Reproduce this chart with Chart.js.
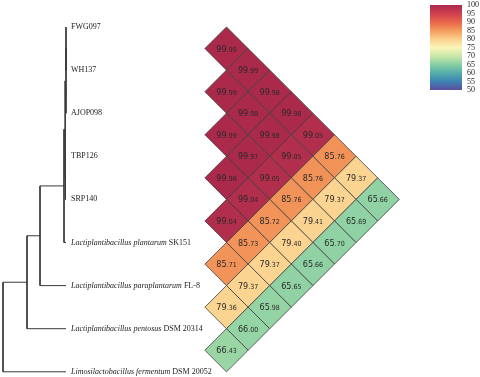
<!DOCTYPE html>
<html>
<head>
<meta charset="utf-8">
<script src="https://cdn.jsdelivr.net/npm/chart.js@4.4.1/dist/chart.umd.min.js"></script>
<style>
  html, body { margin: 0; padding: 0; background: #fff; }
  #wrap { width: 480px; height: 377px; }
</style>
</head>
<body>
<div id="wrap"><canvas id="aniChart" width="480" height="377"></canvas></div>
<script>
// leaf order (top to bottom), species part is italic
const speciesNames = ['', '', '', '', '',
  'Lactiplantibacillus plantarum', 'Lactiplantibacillus paraplantarum',
  'Lactiplantibacillus pentosus', 'Limosilactobacillus fermentum'];
const strainNames = ['FWG097', 'WH137', 'AJOP098', 'TBP126', 'SRP140',
  'SK151', 'FL-8', 'DSM 20314', 'DSM 20052'];

// pairwise identity (%), row i holds pairs (i, i+1), (i, i+2), ...
const aniRows = [
  [99.99, 99.99, 99.98, 99.98, 99.05, 85.76, 79.37, 65.66],
  [99.99, 99.98, 99.98, 99.05, 85.76, 79.37, 65.69],
  [99.99, 99.97, 99.05, 85.76, 79.41, 65.70],
  [99.98, 99.04, 85.72, 79.40, 65.66],
  [99.04, 85.73, 79.37, 65.65],
  [85.71, 79.37, 65.98],
  [79.36, 66.00],
  [66.43]
];

// dendrogram, hclust style: negative = leaf (1-based), positive = earlier merge
const treeMerge = [[-1, -2], [1, -3], [-4, -5], [2, 3], [4, -6], [5, -7], [6, -8], [7, -9]];
const treeHeight = [0, 0, 0.005, 0.01, 0.02, 0.26, 0.39, 0.63];

// colour scale
const scaleTicks = [100, 95, 90, 85, 80, 75, 70, 65, 60, 55, 50];
const scaleColors = ['#ab2a4c', '#cf3f4f', '#e9654b', '#f39b5c', '#fbcf8c', '#fbf5b8',
  '#cbe7a8', '#87cfa3', '#55aeab', '#3e82b3', '#5b4fa0'];

const CELL_FONT = '"Liberation Sans Narrow", "DejaVu Sans Condensed", sans-serif';
const SERIF = '"Liberation Serif", "Times New Roman", serif';

function hexToRgb(h) {
  const n = parseInt(h.slice(1), 16);
  return [(n >> 16) & 255, (n >> 8) & 255, n & 255];
}

function colorFor(v) {
  for (let k = 0; k < scaleTicks.length - 1; k++) {
    const hi = scaleTicks[k], lo = scaleTicks[k + 1];
    if (v <= hi && v >= lo) {
      const t = (hi - v) / (hi - lo);
      const a = hexToRgb(scaleColors[k]), b = hexToRgb(scaleColors[k + 1]);
      const c = a.map((x, i) => Math.round(x + (b[i] - x) * t));
      return `rgb(${c[0]},${c[1]},${c[2]})`;
    }
  }
  return v > scaleTicks[0] ? scaleColors[0] : scaleColors[scaleColors.length - 1];
}

// cells: x = distance between leaves in order, y = midpoint of the two leaves
const cellPoints = [];
aniRows.forEach((row, i) => {
  row.forEach((v, c) => {
    const j = i + 1 + c;
    cellPoints.push({ x: j - i, y: (i + j) / 2 + 1, v });
  });
});

// dendrogram elbows
const nodeY = [], nodeH = [];
function childPos(ref) {
  if (ref < 0) return { h: 0, y: -ref };
  return { h: nodeH[ref - 1], y: nodeY[ref - 1] };
}
const treeSets = treeMerge.map((m, k) => {
  const a = childPos(m[0]), b = childPos(m[1]);
  const h = treeHeight[k];
  nodeH.push(h);
  nodeY.push((a.y + b.y) / 2);
  return {
    type: 'scatter', xAxisID: 'xd', yAxisID: 'y', showLine: true,
    data: [{ x: a.h, y: a.y }, { x: h, y: a.y }, { x: h, y: b.y }, { x: b.h, y: b.y }],
    borderColor: '#3a3a3a', borderWidth: 1, pointRadius: 0, tension: 0, clip: false,
  };
});

const cellSet = {
  type: 'scatter', xAxisID: 'x', yAxisID: 'y',
  data: cellPoints,
  pointStyle: 'rectRot',
  pointRadius: ctx => {
    const s = ctx.chart.scales.x;
    return s.getPixelForValue(1) - s.getPixelForValue(0);
  },
  pointBackgroundColor: cellPoints.map(p => colorFor(p.v)),
  pointBorderColor: '#3c3c3c',
  pointBorderWidth: 0.8,
  clip: false,
};

const labelPlugin = {
  id: 'labels',
  afterDatasetsDraw(chart) {
    const { ctx, scales } = chart;
    const sx = scales.x, sy = scales.y, sc = scales.yc;

    // values inside the cells
    ctx.save();
    ctx.fillStyle = '#2a2a2a';
    ctx.textBaseline = 'alphabetic';
    cellPoints.forEach(p => {
      const px = sx.getPixelForValue(p.x), py = sy.getPixelForValue(p.y);
      const parts = p.v.toFixed(2).split('.');
      ctx.font = '9px ' + CELL_FONT;
      const w1 = ctx.measureText(parts[0]).width;
      ctx.font = '7px ' + CELL_FONT;
      const w2 = ctx.measureText('.' + parts[1]).width;
      const x0 = px - (w1 + w2) / 2;
      ctx.font = '9px ' + CELL_FONT;
      ctx.fillText(parts[0], x0, py + 3);
      ctx.font = '7px ' + CELL_FONT;
      ctx.fillText('.' + parts[1], x0 + w1, py + 3);
    });

    // leaf names
    ctx.textBaseline = 'middle';
    ctx.fillStyle = '#222';
    const lx = scales.xd.getPixelForValue(0) + 5;
    strainNames.forEach((s, k) => {
      const py = sy.getPixelForValue(k + 1);
      let x = lx;
      if (speciesNames[k]) {
        ctx.font = 'italic 8px ' + SERIF;
        ctx.fillText(speciesNames[k] + ' ', x, py);
        x += ctx.measureText(speciesNames[k] + ' ').width;
      }
      ctx.font = '8px ' + SERIF;
      ctx.fillText(s, x, py);
    });

    // colour bar
    const cbLeft = 430, cbWidth = 32;
    const top = sc.getPixelForValue(scaleTicks[0]);
    const bot = sc.getPixelForValue(scaleTicks[scaleTicks.length - 1]);
    const grad = ctx.createLinearGradient(0, top, 0, bot);
    scaleTicks.forEach((t, k) => grad.addColorStop(k / (scaleTicks.length - 1), scaleColors[k]));
    ctx.fillStyle = grad;
    ctx.fillRect(cbLeft, top, cbWidth, bot - top);
    ctx.fillStyle = '#222';
    ctx.font = '8px ' + SERIF;
    ctx.textAlign = 'left';
    scaleTicks.forEach(t => ctx.fillText(String(t), cbLeft + cbWidth + 5, sc.getPixelForValue(t)));
    ctx.restore();
  }
};

const hidden = { display: false, grid: { display: false } };

new Chart(document.getElementById('aniChart').getContext('2d'), {
  type: 'scatter',
  data: { datasets: [...treeSets, cellSet] },
  options: {
    responsive: false,
    animation: false,
    events: [],
    layout: { padding: 0 },
    scales: {
      x:  { ...hidden, type: 'linear', min: -9.486, max: 12.736 },
      xd: { ...hidden, type: 'linear', reverse: true, min: -4.14, max: 0.66 },
      y:  { ...hidden, type: 'linear', reverse: true, min: 0.3735, max: 9.1206 },
      yc: { ...hidden, type: 'linear', min: -118.82, max: 102.94 },
    },
    plugins: { legend: { display: false }, tooltip: { enabled: false } }
  },
  plugins: [labelPlugin]
});
</script>
</body>
</html>
